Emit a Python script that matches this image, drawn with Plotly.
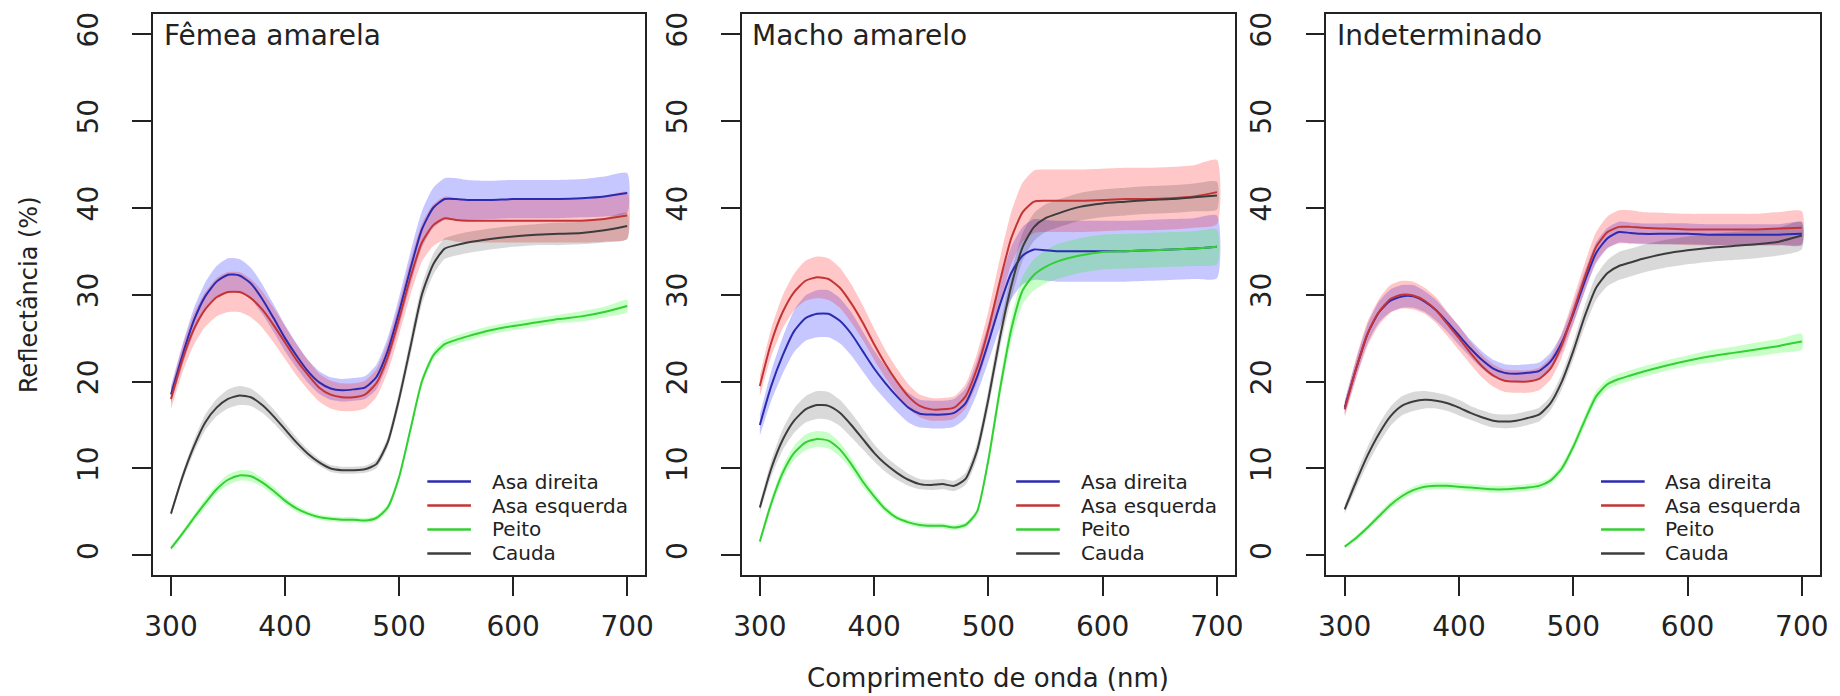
import plotly.graph_objects as go

# ---------------- data ----------------
WL = [300, 310, 320, 330, 340, 350, 360, 370, 380, 390, 400, 410, 420, 430, 440, 450, 460,
      470, 480, 490, 500, 510, 520, 530, 540, 550, 560, 580, 600, 620, 640, 660, 680, 700]

PANEL_TITLES = ["Fêmea amarela", "Macho amarelo", "Indeterminado"]
SERIES = ["Asa direita", "Asa esquerda", "Peito", "Cauda"]
X_TICKS = [300, 400, 500, 600, 700]
Y_TICKS = [0, 10, 20, 30, 40, 50, 60]

# Fêmea amarela
femea_direita = [18.5, 23, 27, 29.8, 31.5, 32.3, 32.2, 31.3, 29.5, 27.3, 25, 23, 21.2, 19.9, 19.2, 19, 19.1,
                 19.3, 20.5, 23.5, 28, 33, 37.5, 40, 41, 41, 40.9, 40.9, 41, 41, 41, 41.1, 41.3, 41.7]
femea_direita_sd = [1.0, 1.2, 1.4, 1.6, 1.8, 1.9, 1.9, 1.8, 1.7, 1.6, 1.5, 1.4, 1.3, 1.3, 1.3, 1.3, 1.3,
                    1.3, 1.4, 1.5, 1.7, 1.9, 2.1, 2.3, 2.4, 2.4, 2.3, 2.2, 2.2, 2.2, 2.2, 2.2, 2.3, 2.3]
femea_esquerda = [18, 22.5, 26, 28.3, 29.7, 30.3, 30.3, 29.6, 28.3, 26.5, 24.5, 22.5, 20.8, 19.3, 18.5, 18.2, 18.2,
                  18.5, 19.8, 22.8, 27.2, 32, 36, 38, 38.8, 38.6, 38.5, 38.5, 38.5, 38.5, 38.5, 38.5, 38.7, 39.1]
femea_esquerda_sd = [1.2, 1.5, 1.8, 2.0, 2.2, 2.3, 2.3, 2.2, 2.1, 2.0, 1.9, 1.8, 1.7, 1.6, 1.6, 1.6, 1.6,
                     1.6, 1.6, 1.7, 1.8, 2.0, 2.2, 2.4, 2.5, 2.5, 2.5, 2.5, 2.5, 2.5, 2.5, 2.5, 2.6, 2.7]
femea_peito = [0.8, 2.5, 4.3, 6, 7.6, 8.7, 9.2, 9.1, 8.4, 7.4, 6.3, 5.4, 4.8, 4.4, 4.2, 4.1, 4.1,
               4.0, 4.3, 5.5, 9, 14.5, 20, 23, 24.3, 24.8, 25.2, 25.9, 26.4, 26.8, 27.2, 27.5, 28, 28.7]
femea_peito_sd = [0.3, 0.3, 0.4, 0.5, 0.5, 0.6, 0.6, 0.6, 0.5, 0.5, 0.4, 0.4, 0.3, 0.3, 0.3, 0.3, 0.3,
                  0.3, 0.3, 0.4, 0.4, 0.5, 0.5, 0.5, 0.5, 0.5, 0.5, 0.5, 0.5, 0.5, 0.5, 0.6, 0.6, 0.7]
femea_cauda = [4.8, 9, 12.5, 15.3, 17, 18, 18.4, 18.2, 17.3, 16, 14.5, 13, 11.7, 10.7, 10, 9.8, 9.8,
               9.9, 10.5, 13, 18, 24, 30, 33.5, 35.3, 35.7, 36, 36.4, 36.7, 36.9, 37, 37.1, 37.4, 37.9]
femea_cauda_sd = [0.3, 0.5, 0.7, 0.9, 1.0, 1.1, 1.1, 1.0, 0.9, 0.8, 0.7, 0.6, 0.5, 0.4, 0.4, 0.4, 0.4,
                  0.4, 0.5, 0.6, 0.8, 1.0, 1.1, 1.2, 1.2, 1.2, 1.2, 1.2, 1.2, 1.2, 1.3, 1.3, 1.4, 1.5]

# Macho amarelo
macho_direita = [15, 19.5, 23, 25.8, 27.3, 27.8, 27.8, 27, 25.5, 23.5, 21.5, 19.8, 18.3, 17, 16.3, 16.2, 16.2,
                 16.4, 17.5, 20.5, 24.5, 28.8, 32.5, 34.5, 35.2, 35.1, 35, 35, 35, 35, 35.1, 35.2, 35.3, 35.5]
macho_direita_sd = [1.2, 1.7, 2.1, 2.4, 2.6, 2.7, 2.7, 2.6, 2.5, 2.3, 2.1, 1.9, 1.8, 1.7, 1.6, 1.6, 1.6,
                    1.6, 1.7, 1.9, 2.2, 2.6, 3.0, 3.3, 3.5, 3.5, 3.5, 3.5, 3.5, 3.5, 3.5, 3.5, 3.5, 3.6]
macho_esquerda = [19.5, 24.5, 28, 30.3, 31.6, 32, 31.8, 30.8, 29, 26.8, 24.3, 22, 20, 18.3, 17.2, 16.8, 16.8,
                  17, 18.3, 21.5, 26, 31.5, 36.5, 39.5, 40.7, 40.8, 40.8, 40.8, 40.9, 41, 41, 41.1, 41.3, 41.8]
macho_esquerda_sd = [1.2, 1.6, 1.9, 2.1, 2.3, 2.4, 2.4, 2.3, 2.2, 2.0, 1.8, 1.6, 1.5, 1.4, 1.3, 1.3, 1.3,
                     1.3, 1.4, 1.7, 2.1, 2.6, 3.0, 3.4, 3.6, 3.6, 3.6, 3.6, 3.6, 3.6, 3.6, 3.6, 3.6, 3.7]
macho_peito = [1.6, 6, 9.5, 11.8, 13, 13.4, 13.2, 12.2, 10.5, 8.5, 6.8, 5.3, 4.3, 3.8, 3.5, 3.4, 3.4,
               3.2, 3.5, 5, 11, 19, 26, 30.5, 32.3, 33.2, 33.8, 34.5, 34.9, 35, 35.1, 35.2, 35.3, 35.5]
macho_peito_sd = [0.4, 0.6, 0.7, 0.8, 0.9, 0.9, 0.9, 0.8, 0.7, 0.6, 0.5, 0.4, 0.3, 0.3, 0.3, 0.3, 0.3,
                  0.3, 0.3, 0.4, 0.7, 1.0, 1.3, 1.6, 1.8, 1.9, 2.0, 2.0, 2.0, 2.0, 2.0, 2.0, 2.0, 2.0]
macho_cauda = [5.5, 10, 13.3, 15.5, 16.8, 17.3, 17.2, 16.4, 15, 13.4, 11.8, 10.5, 9.5, 8.7, 8.2, 8.1, 8.2,
               8.0, 8.8, 12, 18, 25, 31, 35.5, 37.8, 38.8, 39.3, 40.1, 40.5, 40.7, 40.9, 41, 41.2, 41.4]
macho_cauda_sd = [0.6, 0.9, 1.2, 1.4, 1.5, 1.6, 1.6, 1.5, 1.4, 1.2, 1.0, 0.9, 0.8, 0.7, 0.6, 0.6, 0.6,
                  0.6, 0.7, 0.9, 1.1, 1.3, 1.5, 1.6, 1.6, 1.6, 1.6, 1.6, 1.6, 1.6, 1.6, 1.6, 1.6, 1.6]

# Indeterminado
indet_direita = [17, 21.5, 25.5, 28, 29.3, 29.8, 29.8, 29.2, 28.2, 26.8, 25.3, 23.8, 22.5, 21.5, 21, 20.9, 21,
                 21.2, 22.3, 24.5, 27.8, 31.5, 34.8, 36.5, 37.2, 37.1, 37, 37, 37, 36.9, 36.9, 36.9, 36.9, 37]
indet_direita_sd = [0.8, 1.0, 1.1, 1.2, 1.3, 1.3, 1.3, 1.2, 1.2, 1.1, 1.1, 1.0, 1.0, 1.0, 1.0, 1.0, 1.0,
                    1.0, 1.0, 1.0, 1.1, 1.2, 1.2, 1.2, 1.2, 1.2, 1.2, 1.2, 1.2, 1.2, 1.2, 1.2, 1.2, 1.3]
indet_esquerda = [16.8, 21.5, 25.5, 28, 29.5, 30, 29.9, 29.3, 28.2, 26.6, 25, 23.3, 21.8, 20.7, 20.1, 20, 20,
                  20.3, 21.5, 24.2, 28, 32, 35.5, 37.2, 37.8, 37.8, 37.7, 37.6, 37.5, 37.5, 37.5, 37.5, 37.6, 37.7]
indet_esquerda_sd = [0.9, 1.2, 1.4, 1.5, 1.6, 1.6, 1.6, 1.5, 1.5, 1.4, 1.4, 1.3, 1.3, 1.3, 1.3, 1.3, 1.3,
                     1.3, 1.3, 1.4, 1.5, 1.6, 1.7, 1.8, 1.9, 1.9, 1.8, 1.8, 1.8, 1.8, 1.8, 1.8, 1.9, 1.9]
indet_peito = [1, 2, 3.2, 4.5, 5.8, 6.8, 7.5, 7.9, 8, 8, 7.9, 7.8, 7.7, 7.6, 7.6, 7.7, 7.8,
               8, 8.6, 10, 12.5, 15.5, 18.3, 19.7, 20.3, 20.7, 21.1, 21.8, 22.4, 22.9, 23.3, 23.7, 24.1, 24.6]
indet_peito_sd = [0.2, 0.3, 0.3, 0.4, 0.4, 0.4, 0.4, 0.4, 0.4, 0.4, 0.4, 0.4, 0.4, 0.4, 0.4, 0.4, 0.4,
                  0.4, 0.4, 0.5, 0.5, 0.6, 0.6, 0.6, 0.6, 0.6, 0.6, 0.6, 0.6, 0.7, 0.7, 0.8, 0.8, 0.9]
indet_cauda = [5.3, 8.5, 11.5, 14, 16, 17.2, 17.7, 17.9, 17.8, 17.5, 17, 16.4, 15.9, 15.5, 15.4, 15.5, 15.8,
               16.2, 17.5, 20, 23.5, 27.5, 30.8, 32.5, 33.3, 33.7, 34.1, 34.7, 35.1, 35.4, 35.6, 35.8, 36.1, 36.8]
indet_cauda_sd = [0.5, 0.8, 1.0, 1.1, 1.1, 1.1, 1.1, 1.0, 0.9, 0.9, 0.9, 0.8, 0.8, 0.8, 0.8, 0.8, 0.8,
                  0.8, 0.8, 0.9, 1.0, 1.2, 1.4, 1.5, 1.6, 1.6, 1.6, 1.6, 1.6, 1.6, 1.6, 1.6, 1.6, 1.6]

# ---------------- styling ----------------
W, H = 1840, 696
FONT = "DejaVu Sans"
TXT = "#222222"
LINE_COL = {"Asa direita": "#2b2bb0", "Asa esquerda": "#c53434", "Peito": "#33d033", "Cauda": "#3c3c3c"}
FILL_COL = {"Asa direita": "rgba(0,0,255,0.22)", "Asa esquerda": "rgba(255,0,0,0.22)",
            "Peito": "rgba(0,255,0,0.22)", "Cauda": "rgba(0,0,0,0.15)"}

panels = [
    [(femea_direita, femea_direita_sd), (femea_esquerda, femea_esquerda_sd),
     (femea_peito, femea_peito_sd), (femea_cauda, femea_cauda_sd)],
    [(macho_direita, macho_direita_sd), (macho_esquerda, macho_esquerda_sd),
     (macho_peito, macho_peito_sd), (macho_cauda, macho_cauda_sd)],
    [(indet_direita, indet_direita_sd), (indet_esquerda, indet_esquerda_sd),
     (indet_peito, indet_peito_sd), (indet_cauda, indet_cauda_sd)],
]

# pixel geometry of the three plot boxes
X_PIX = [(146, 643), (740, 1238), (1330, 1828)]
Y_TOP, Y_BOT = 12, 575
LEG_ROWS = [481, 505, 529, 553]       # legend row centres (px from top)
LEG_LINE = (277, 321)                 # legend sample line, px from panel left edge
LEG_TEXT = 340                        # legend text start, px from panel left edge

fig = go.Figure()

for p, series_data in enumerate(panels):
    xa = "x" if p == 0 else f"x{p + 1}"
    ya = "y" if p == 0 else f"y{p + 1}"
    for name, (mean, sd) in zip(SERIES, series_data):
        upper = [m + s for m, s in zip(mean, sd)]
        lower = [m - s for m, s in zip(mean, sd)]
        fig.add_trace(go.Scatter(
            x=WL + WL[::-1], y=upper + lower[::-1], xaxis=xa, yaxis=ya,
            fill="toself", fillcolor=FILL_COL[name], line=dict(width=0, shape="spline", smoothing=0.6),
            mode="lines", hoverinfo="skip", showlegend=False))
    for name, (mean, sd) in zip(SERIES, series_data):
        fig.add_trace(go.Scatter(
            x=WL, y=mean, xaxis=xa, yaxis=ya, name=name, mode="lines",
            line=dict(color=LINE_COL[name], width=2, shape="spline", smoothing=0.6),
            showlegend=False))

layout = dict(
    width=W, height=H, autosize=False,
    margin=dict(l=0, r=0, t=0, b=0),
    paper_bgcolor="white", plot_bgcolor="white",
    font=dict(family=FONT, color=TXT, size=28),
    showlegend=False,
)

axis_common = dict(showgrid=False, zeroline=False, showline=True, mirror=True,
                   linecolor=TXT, linewidth=1.5, ticks="outside", ticklen=19,
                   tickwidth=1.5, tickcolor=TXT, tickfont=dict(family=FONT, size=28, color=TXT))

for p in range(3):
    xk = "xaxis" if p == 0 else f"xaxis{p + 1}"
    yk = "yaxis" if p == 0 else f"yaxis{p + 1}"
    x0, x1 = X_PIX[p]
    layout[xk] = dict(axis_common, domain=[x0 / W, x1 / W], range=[284, 716],
                      tickvals=X_TICKS, ticktext=[str(v) for v in X_TICKS],
                      anchor="y" if p == 0 else f"y{p + 1}", ticklabelstandoff=6)
    layout[yk] = dict(axis_common, domain=[(H - Y_BOT) / H, (H - Y_TOP) / H], range=[-2.3, 62.3],
                      tickvals=Y_TICKS, ticktext=[str(v) for v in Y_TICKS], tickangle=-90,
                      anchor="x" if p == 0 else f"x{p + 1}", ticklabelstandoff=23)

fig.update_layout(**layout)

annotations = []
shapes = []
for p in range(3):
    x0, x1 = X_PIX[p]
    annotations.append(dict(text=PANEL_TITLES[p], xref="paper", yref="paper",
                            x=(x0 + 9) / W, y=(H - 34) / H, xanchor="left", yanchor="middle",
                            showarrow=False, font=dict(family=FONT, size=28, color=TXT)))
    # legend (no box), lower right of each panel
    for name, row in zip(SERIES, LEG_ROWS):
        shapes.append(dict(type="line", xref="paper", yref="paper",
                           x0=(x0 + LEG_LINE[0]) / W, x1=(x0 + LEG_LINE[1]) / W,
                           y0=(H - row) / H, y1=(H - row) / H,
                           line=dict(color=LINE_COL[name], width=2.5)))
        annotations.append(dict(text=name, xref="paper", yref="paper",
                                x=(x0 + LEG_TEXT) / W, y=(H - row) / H, xanchor="left", yanchor="middle",
                                showarrow=False, font=dict(family=FONT, size=20, color=TXT)))
annotations.append(dict(text="Reflectância (%)", xref="paper", yref="paper", x=21 / W,
                        y=(H - 293) / H, xanchor="center", yanchor="middle", textangle=-90,
                        showarrow=False, font=dict(family=FONT, size=24, color=TXT)))
annotations.append(dict(text="Comprimento de onda (nm)", xref="paper", yref="paper", x=989 / W,
                        y=(H - 678) / H, xanchor="center", yanchor="middle",
                        showarrow=False, font=dict(family=FONT, size=26, color=TXT)))
fig.update_layout(annotations=annotations, shapes=shapes)

fig.write_html("out.html", config={"displayModeBar": False},
               post_script="document.body.style.margin='0px';")
